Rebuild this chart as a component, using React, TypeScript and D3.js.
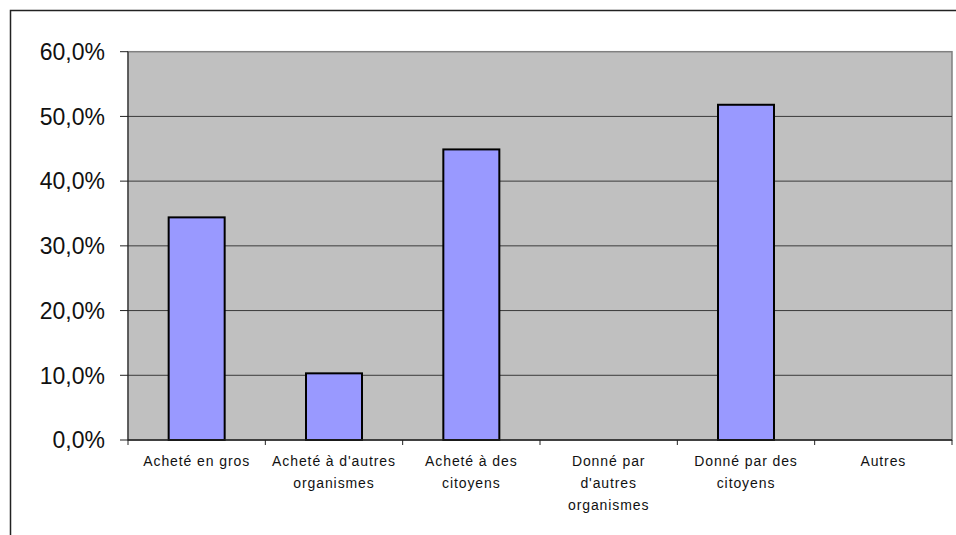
import React, { useEffect, useRef } from 'react'
import * as d3 from 'd3'

const categories = [
  ['Acheté en gros'],
  ["Acheté à d'autres", 'organismes'],
  ['Acheté à des', 'citoyens'],
  ['Donné par', "d'autres", 'organismes'],
  ['Donné par des', 'citoyens'],
  ['Autres'],
]
const values = [34.4, 10.3, 44.9, 0, 51.8, 0]
const yTicks = [0, 10, 20, 30, 40, 50, 60]

const W = 956
const H = 535

const App = () => {
  const svgRef = useRef<SVGSVGElement>(null)

  useEffect(() => {
    const svg = d3.select(svgRef.current)
    svg.selectAll('*').remove()

    const left = 128, right = 952, top = 51.7, bottom = 440

    const x = d3.scaleBand<number>()
      .domain(categories.map((_, i) => i))
      .range([left, right])
      .paddingInner(0)
      .paddingOuter(0)
    const y = d3.scaleLinear().domain([0, 60]).range([bottom, top])

    // outer chart frame
    svg.append('rect')
      .attr('x', 10.5).attr('y', 10.5)
      .attr('width', 980).attr('height', 600)
      .attr('fill', 'white')
      .attr('stroke', '#222').attr('stroke-width', 1.5)

    // plot area
    svg.append('rect')
      .attr('x', left).attr('y', top)
      .attr('width', right - left).attr('height', bottom - top)
      .attr('fill', '#c0c0c0')
      .attr('stroke', '#808080').attr('stroke-width', 1.5)

    // gridlines
    svg.append('g')
      .selectAll('line')
      .data(yTicks.filter(t => t > 0 && t < 60))
      .join('line')
      .attr('x1', left).attr('x2', right)
      .attr('y1', d => y(d)).attr('y2', d => y(d))
      .attr('stroke', '#3a3a3a').attr('stroke-width', 1)

    // bars
    const bw = 56
    svg.append('g')
      .selectAll('rect')
      .data(values.map((v, i) => ({ v, i })).filter(d => d.v > 0))
      .join('rect')
      .attr('x', d => x(d.i)! + x.bandwidth() / 2 - bw / 2)
      .attr('y', d => y(d.v))
      .attr('width', bw)
      .attr('height', d => y(0) - y(d.v))
      .attr('fill', '#9999ff')
      .attr('stroke', 'black').attr('stroke-width', 2)

    // y axis
    const ya = svg.append('g')
    ya.append('line')
      .attr('x1', left).attr('x2', left)
      .attr('y1', top).attr('y2', bottom)
      .attr('stroke', '#222').attr('stroke-width', 1)
    ya.selectAll('line.tick')
      .data(yTicks)
      .join('line')
      .attr('class', 'tick')
      .attr('x1', left - 8).attr('x2', left)
      .attr('y1', d => y(d)).attr('y2', d => y(d))
      .attr('stroke', '#222').attr('stroke-width', 1)
    ya.selectAll('text')
      .data(yTicks)
      .join('text')
      .attr('x', 105)
      .attr('y', d => y(d))
      .attr('dy', '0.36em')
      .attr('text-anchor', 'end')
      .attr('font-family', 'Liberation Sans, Arial, sans-serif')
      .attr('font-size', 23)
      .attr('fill', '#111')
      .text(d => d.toFixed(1).replace('.', ',') + '%')

    // x axis
    const xa = svg.append('g')
    xa.append('line')
      .attr('x1', left).attr('x2', right)
      .attr('y1', bottom).attr('y2', bottom)
      .attr('stroke', '#222').attr('stroke-width', 1.5)
    xa.selectAll('line.tick')
      .data(d3.range(categories.length + 1))
      .join('line')
      .attr('class', 'tick')
      .attr('x1', d => left + d * x.bandwidth()).attr('x2', d => left + d * x.bandwidth())
      .attr('y1', bottom).attr('y2', bottom + 5)
      .attr('stroke', '#222').attr('stroke-width', 1)
    xa.selectAll('text')
      .data(categories)
      .join('text')
      .attr('x', (_, i) => x(i)! + x.bandwidth() / 2)
      .attr('y', 466)
      .attr('text-anchor', 'middle')
      .attr('font-family', 'Liberation Sans, Arial, sans-serif')
      .attr('font-size', 14)
      .attr('letter-spacing', 0.9)
      .attr('fill', '#111')
      .each(function (d) {
        const t = d3.select(this)
        d.forEach((line, k) => {
          t.append('tspan')
            .attr('x', t.attr('x'))
            .attr('y', 466 + k * 22)
            .text(line)
        })
      })
  }, [])

  return (
    <svg
      ref={svgRef}
      width={W}
      height={H}
      style={{ position: 'absolute', left: 0, top: 0, background: 'white' }}
    />
  )
}

export default App
